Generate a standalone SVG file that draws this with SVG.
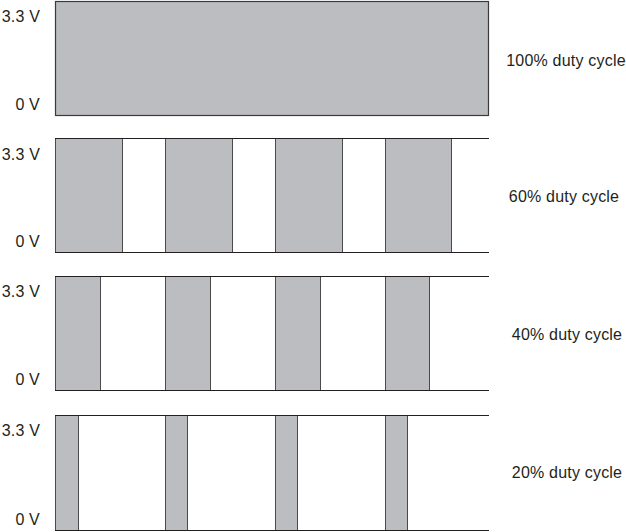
<svg xmlns="http://www.w3.org/2000/svg" width="626" height="532" viewBox="0 0 626 532">
<style>
.bg{fill:#ffffff}
.hi{fill:#bcbdc0;stroke:#4a4a4a;stroke-width:1}
.rail{stroke:#231f20;stroke-width:1.2;fill:none}
.lbl{font-family:"Liberation Sans",Arial,sans-serif;font-size:16px;letter-spacing:0.2px;fill:#231f20}
.v{text-anchor:end}
.d{text-anchor:middle}
</style>
<rect class="bg" x="0" y="0" width="626" height="532"/>
<g id="p100">
<rect x="55.5" y="1.5" width="433" height="114" fill="#bcbdc0" stroke="#3a3a3a" stroke-width="1.2"/>
<text class="lbl v" x="40" y="22">3.3 V</text>
<text class="lbl v" x="40" y="110">0 V</text>
<text class="lbl d" x="566" y="66">100% duty cycle</text>
</g>
<g id="p60">
<rect class="hi" x="55.5" y="138.5" width="67" height="114"/>
<rect class="hi" x="165.5" y="138.5" width="67" height="114"/>
<rect class="hi" x="275.5" y="138.5" width="67" height="114"/>
<rect class="hi" x="385.5" y="138.5" width="66" height="114"/>
<line class="rail" x1="55" y1="138.5" x2="489" y2="138.5"/>
<line class="rail" x1="55" y1="252.5" x2="489" y2="252.5"/>
<text class="lbl v" x="40" y="160">3.3 V</text>
<text class="lbl v" x="40" y="247">0 V</text>
<text class="lbl d" x="564" y="202">60% duty cycle</text>
</g>
<g id="p40">
<rect class="hi" x="55.5" y="276.5" width="45" height="114"/>
<rect class="hi" x="165.5" y="276.5" width="45" height="114"/>
<rect class="hi" x="275.5" y="276.5" width="45" height="114"/>
<rect class="hi" x="385.5" y="276.5" width="44" height="114"/>
<line class="rail" x1="55" y1="276.5" x2="489" y2="276.5"/>
<line class="rail" x1="55" y1="390.5" x2="489" y2="390.5"/>
<text class="lbl v" x="40" y="297">3.3 V</text>
<text class="lbl v" x="40" y="385">0 V</text>
<text class="lbl d" x="567" y="340">40% duty cycle</text>
</g>
<g id="p20">
<rect class="hi" x="55.5" y="415.5" width="23" height="115"/>
<rect class="hi" x="165.5" y="415.5" width="22" height="115"/>
<rect class="hi" x="275.5" y="415.5" width="22" height="115"/>
<rect class="hi" x="385.5" y="415.5" width="22" height="115"/>
<line class="rail" x1="55" y1="415.5" x2="489" y2="415.5"/>
<line class="rail" x1="55" y1="530.5" x2="489" y2="530.5"/>
<text class="lbl v" x="40" y="436">3.3 V</text>
<text class="lbl v" x="40" y="525">0 V</text>
<text class="lbl d" x="567" y="478">20% duty cycle</text>
</g>
</svg>
